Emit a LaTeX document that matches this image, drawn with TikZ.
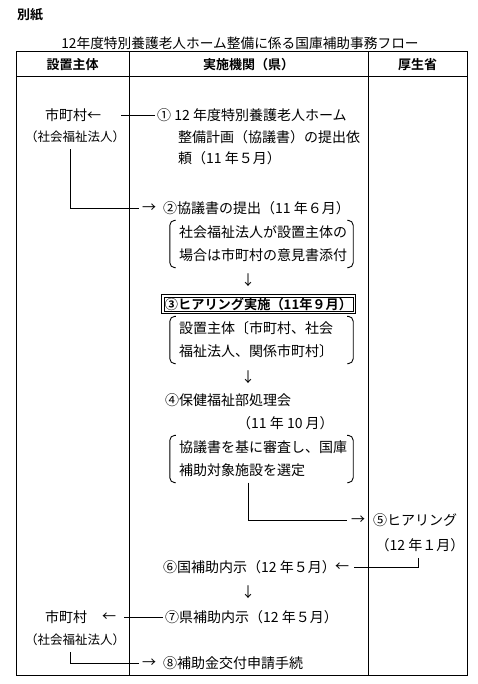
\documentclass[tikz,border=0pt]{standalone}
\usepackage{fontspec}
\setmainfont{Noto Sans CJK JP}
\newfontfamily\bdfont{Noto Sans CJK JP Bold}
\begin{document}
\begin{tikzpicture}[x=1pt,y=-1pt,
  txt/.style={inner sep=0pt, font=\fontsize{14}{16}\selectfont},
  sml/.style={inner sep=0pt, font=\fontsize{12.5}{14}\selectfont},
  hd/.style={inner sep=0pt, font=\bdfont\fontsize{13}{15}\selectfont},
  brk/.style={inner xsep=9pt, inner ysep=0pt, minimum width=183pt, minimum height=47pt,
     text width=165pt, align=left, font=\fontsize{14}{23}\selectfont},
  dbox/.style={inner sep=0pt, minimum width=193pt, minimum height=18pt,
     font=\bdfont\fontsize{13.2}{15}\selectfont},
  ln/.style={line width=0.9pt},
  tbl/.style={line width=1pt}]
\useasboundingbox (0,0) rectangle (478,684);
\fill[white] (0,0) rectangle (478,684);

% headings
\node[hd, anchor=west] (bessi) at (17,15) {別紙};
\node[inner sep=0pt, font=\fontsize{13.7}{16}\selectfont] (title) at (240,43) {12年度特別養護老人ホーム整備に係る国庫補助事務フロー};

% table
\draw[tbl] (16,52) rectangle (467,675);
\draw[tbl] (16,77) -- (467,77);
\draw[tbl] (129,52) -- (129,675);
\draw[tbl] (368,52) -- (368,675);
\node[hd] (h1) at (72.5,65) {設置主体};
\node[hd] (h2) at (248.5,65) {実施機関（県）};
\node[hd] (h3) at (417.5,65) {厚生省};

% step 1
\node[txt, anchor=west] (m1) at (45,115) {市町村←};
\node[sml, anchor=west] (m1b) at (25,137) {（社会福祉法人）};
\node[txt, anchor=west] (s1a) at (157,115) {① 12 年度特別養護老人ホーム};
\node[txt, anchor=west] (s1b) at (178,137) {整備計画（協議書）の提出依};
\node[txt, anchor=west] (s1c) at (178,158) {頼（11 年５月）};
\draw[ln] ([xshift=20pt]m1.east) -- ([xshift=-2pt]s1a.west);

% step 2
\node[txt] (a2) at (149,208) {→};
\node[txt, anchor=west] (s2) at (163,208) {②協議書の提出（11 年６月）};
\draw[ln] ([xshift=-5pt,yshift=-6pt]m1b.south) |- ([xshift=-3pt]a2.west);
\node[brk] (b2) at (261.5,244) {社会福祉法人が設置主体の\\場合は市町村の意見書添付};

% step 3
\node[txt] (a3) at (248,280) {↓};
\node[dbox] (s3) at (258.5,304) {③ヒアリング実施（11年９月）};
\draw[line width=1.3pt] (s3.north west) rectangle (s3.south east);
\draw[line width=0.6pt] ([shift={(2.2pt,-2.2pt)}]s3.north west) rectangle ([shift={(-2.2pt,2.2pt)}]s3.south east);
\node[brk] (b3) at (261.5,340) {設置主体〔市町村、社会\\福祉法人、関係市町村〕};

% step 4
\node[txt] (a4) at (248,377) {↓};
\node[txt, anchor=west] (s4) at (165,400) {④保健福祉部処理会};
\node[txt, anchor=west] (s4b) at (237,423) {（11 年 10 月）};
\node[brk] (b4) at (261.5,459) {協議書を基に審査し、国庫\\補助対象施設を選定};

\foreach \b in {b2,b3,b4} {
  \draw[ln, rounded corners=5pt] ([xshift=6pt]\b.north west) -- (\b.north west)
     -- (\b.south west) -- ([xshift=6pt]\b.south west);
  \draw[ln, rounded corners=5pt] ([xshift=-6pt]\b.north east) -- (\b.north east)
     -- (\b.south east) -- ([xshift=-6pt]\b.south east);
}

% step 5
\node[txt] (a5) at (358,520) {→};
\node[txt, anchor=west] (s5) at (373,520) {⑤ヒアリング};
\node[txt] (s5b) at (420,545) {（12 年１月）};
\draw[ln] (b4.south -| a4) |- ([xshift=-4pt]a5.west);

% step 6
\node[txt] (a6) at (342,567) {←};
\node[txt, anchor=west] (s6) at (163,567) {⑥国補助内示（12 年５月）};
\draw[ln] ([xshift=-2pt,yshift=-6pt]s5b.south) |- ([xshift=5pt]a6.east);

% step 7
\node[txt] (a7) at (248,592) {↓};
\node[txt, anchor=west] (m7) at (45,617) {市町村};
\node[txt] (a7l) at (109,617) {←};
\node[txt, anchor=west] (s7) at (165,617) {⑦県補助内示（12 年５月）};
\draw[ln] ([xshift=8pt]a7l.east) -- ([xshift=-2pt]s7.west);

% step 8
\node[sml, anchor=west] (m8) at (25,640) {（社会福祉法人）};
\node[txt] (a8) at (149,663) {→};
\node[txt, anchor=west] (s8) at (163,663) {⑧補助金交付申請手続};
\draw[ln] ([xshift=-5pt,yshift=-6pt]m8.south) |- ([xshift=-3pt]a8.west);
\end{tikzpicture}
\end{document}
